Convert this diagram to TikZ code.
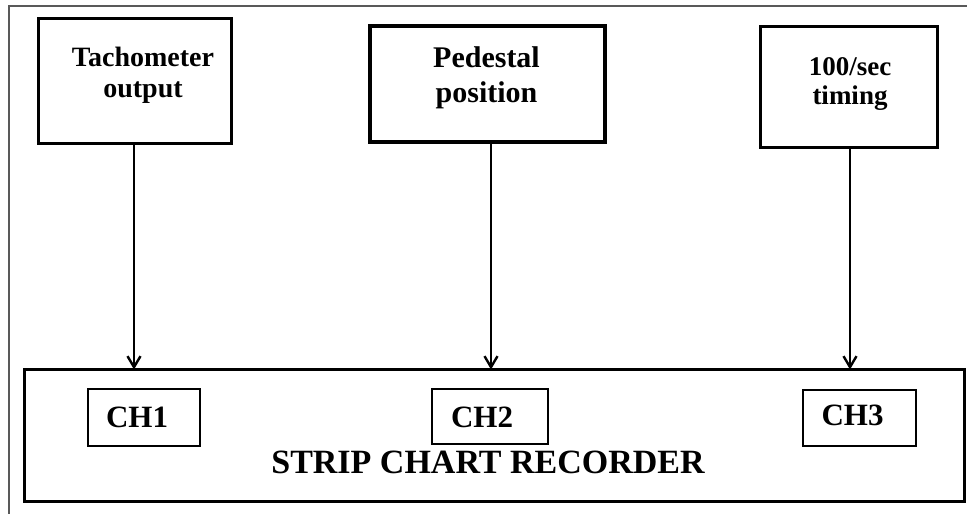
\documentclass[tikz,border=0pt]{standalone}
\usepackage{fontspec}
\setmainfont{Liberation Serif}
\usetikzlibrary{arrows.meta}
\tikzset{
  blk/.style={draw=black, rectangle, inner sep=0pt, line width=3pt},
  chbox/.style={draw=black, rectangle, inner sep=0pt, line width=2pt},
  lbl/.style={inner sep=0pt, align=center, font=\bfseries\fontsize{27}{29}\selectfont},
  chlbl/.style={inner sep=0pt, anchor=base, font=\bfseries\fontsize{31}{33}\selectfont},
  arr/.style={line width=2.4pt, -{Straight Barb[length=11pt,width=13pt,line width=2.4pt]}},
  frame/.style={draw=black!65, line width=1.5pt}
}
\begin{document}
\begin{tikzpicture}[x=1pt,y=-1pt]
\useasboundingbox (0,0) rectangle (967,514);
\draw[frame] (9,514) -- (9,6) -- (967,6);

% source boxes
\node[blk, minimum width=193pt, minimum height=125pt] (tach) at (135,81) {};
\node[blk, line width=4pt, minimum width=235pt, minimum height=116pt] (ped) at (487.5,84) {};
\node[blk, minimum width=177pt, minimum height=121pt] (tim) at (849,87) {};

\node[lbl, anchor=north, font=\bfseries\fontsize{28}{31}\selectfont] (tachtxt) at (143,47) {Tachometer\\output};
\node[lbl, anchor=north, font=\bfseries\fontsize{30}{35}\selectfont] (pedtxt) at (486.5,46) {Pedestal\\position};
\node[lbl, anchor=north] (timtxt) at (850,57) {100/sec\\timing};

% recorder
\node[blk, minimum width=940pt, minimum height=132pt] (rec) at (494.5,435.5) {};
\node[chbox, minimum width=112pt, minimum height=57pt] (ch1) at (144,417.5) {};
\node[chbox, minimum width=116pt, minimum height=55pt] (ch2) at (490,416.5) {};
\node[chbox, minimum width=113pt, minimum height=56pt] (ch3) at (859.5,418) {};
\node[chlbl] (ch1t) at (137,427) {CH1};
\node[chlbl] (ch2t) at (482,427) {CH2};
\node[chlbl] (ch3t) at (852.5,425) {CH3};
\node[inner sep=0pt, anchor=base, font=\bfseries\fontsize{34}{36}\selectfont] (rectxt) at (488,473) {STRIP CHART RECORDER};

% connectors
\coordinate (a1) at ([xshift=-1pt]tach.south);
\coordinate (a2) at ([xshift=3.5pt]ped.south);
\coordinate (a3) at ([xshift=1pt]tim.south);
\draw[arr] (a1) -- ([yshift=-1.5pt]a1 |- rec.north);
\draw[arr] (a2) -- ([yshift=-1.5pt]a2 |- rec.north);
\draw[arr] (a3) -- ([yshift=-1.5pt]a3 |- rec.north);
\end{tikzpicture}
\end{document}
